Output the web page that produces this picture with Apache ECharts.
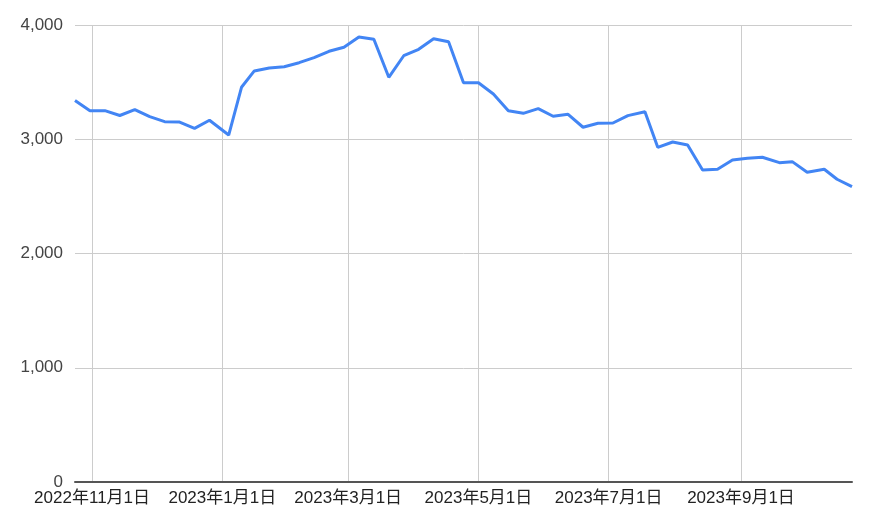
<!DOCTYPE html>
<html>
<head>
<meta charset="utf-8">
<script src="https://cdn.jsdelivr.net/npm/echarts@6/dist/echarts.min.js"></script>
<style>
html,body{margin:0;padding:0;background:#fff;}
#chart{width:870px;height:524px;}
</style>
</head>
<body>
<div id="chart"></div>
<script>
// ---- data ----
const dates = [
  '2022-10-24','2022-10-31','2022-11-07','2022-11-14','2022-11-21','2022-11-28',
  '2022-12-05','2022-12-12','2022-12-19','2022-12-26','2023-01-04','2023-01-10',
  '2023-01-16','2023-01-23','2023-01-30','2023-02-06','2023-02-13','2023-02-20',
  '2023-02-27','2023-03-06','2023-03-13','2023-03-20','2023-03-27','2023-04-03',
  '2023-04-10','2023-04-17','2023-04-24','2023-05-01','2023-05-08','2023-05-15',
  '2023-05-22','2023-05-29','2023-06-05','2023-06-12','2023-06-19','2023-06-26',
  '2023-07-03','2023-07-10','2023-07-18','2023-07-24','2023-07-31','2023-08-07',
  '2023-08-14','2023-08-21','2023-08-28','2023-09-04','2023-09-11','2023-09-19',
  '2023-09-25','2023-10-02','2023-10-10','2023-10-16','2023-10-23'
];
const values = [
  3340, 3250, 3250, 3208, 3260, 3198,
  3154, 3150, 3095, 3166, 3037, 3455,
  3598, 3624, 3635, 3670, 3714, 3770,
  3805, 3895, 3875, 3542, 3731, 3787,
  3880, 3854, 3495, 3495, 3396, 3250,
  3227, 3268, 3201, 3218, 3105, 3140,
  3142, 3207, 3241, 2929, 2976, 2950,
  2731, 2737, 2818, 2833, 2842, 2795,
  2804, 2711, 2737, 2650, 2585
];
const xTickDates = ['2022-11-01','2023-01-01','2023-03-01','2023-05-01','2023-07-01','2023-09-01'];
const xTickLabels = ['2022年11月1日','2023年1月1日','2023年3月1日','2023年5月1日','2023年7月1日','2023年9月1日'];
const yTicks = [0, 1000, 2000, 3000, 4000];
const yTickLabels = ['0', '1,000', '2,000', '3,000', '4,000'];

// ---- helpers ----
const DAY = 86400000;
const dayNum = s => { const p = s.split('-').map(Number); return Math.round(Date.UTC(p[0], p[1] - 1, p[2]) / DAY); };
const seriesData = dates.map((d, i) => [dayNum(d), values[i]]);
const xTickDays = xTickDates.map(dayNum);

const FONT = 'Arial, "Liberation Sans", "Noto Sans CJK JP", sans-serif';

const chart = echarts.init(document.getElementById('chart'), null, { renderer: 'canvas' });
chart.setOption({
  animation: false,
  backgroundColor: '#ffffff',
  grid: { left: 75, right: 18, top: 25, bottom: 42, containLabel: false, outerBoundsMode: 'none' },
  xAxis: {
    type: 'value',
    min: dayNum(dates[0]),
    max: dayNum(dates[dates.length - 1]),
    axisLine: { show: true, onZero: false, lineStyle: { color: '#555', width: 2 } },
    axisTick: { show: false, customValues: xTickDays },
    splitLine: { show: true, lineStyle: { color: '#cccccc', width: 1 } },
    axisLabel: {
      customValues: xTickDays,
      margin: 8,
      color: '#222',
      fontSize: 17,
      fontFamily: FONT,
      hideOverlap: false,
      formatter: function (v) {
        const i = xTickDays.indexOf(v);
        return i >= 0 ? xTickLabels[i] : '';
      }
    }
  },
  yAxis: {
    type: 'value',
    min: yTicks[0],
    max: yTicks[yTicks.length - 1],
    interval: 1000,
    axisLine: { show: false },
    axisTick: { show: false },
    splitLine: { show: true, lineStyle: { color: '#cccccc', width: 1 } },
    axisLabel: {
      margin: 12,
      color: '#444',
      fontSize: 17,
      fontFamily: FONT,
      formatter: function (v) {
        const i = yTicks.indexOf(v);
        return i >= 0 ? yTickLabels[i] : '';
      }
    }
  },
  series: [{
    type: 'line',
    data: seriesData,
    showSymbol: false,
    smooth: false,
    lineStyle: { color: '#4285F4', width: 3 },
    itemStyle: { color: '#4285F4' },
    z: 3
  }]
});
</script>
</body>
</html>
